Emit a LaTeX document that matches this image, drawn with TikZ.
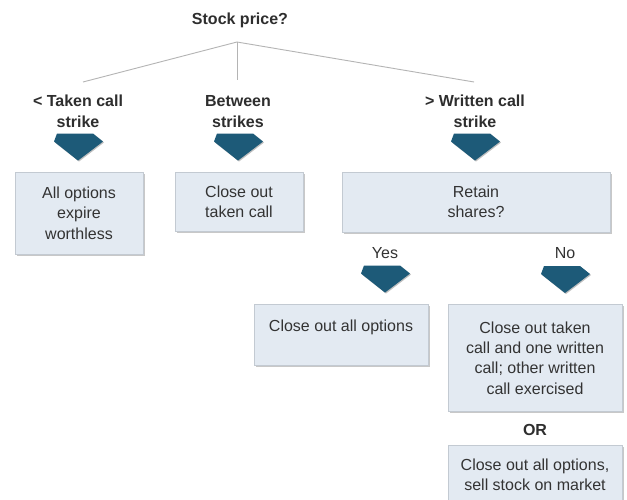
\documentclass[tikz,border=0pt]{standalone}
\usepackage{fontspec}
\setmainfont{Liberation Sans}
\usetikzlibrary{calc,shadows}
\definecolor{boxfill}{HTML}{E3EAF2}
\definecolor{boxline}{HTML}{C3CAD2}
\definecolor{arrowc}{HTML}{1D5A78}
\definecolor{txtc}{HTML}{333333}
\definecolor{linec}{HTML}{B4B4B4}
\tikzset{
  txt/.style={align=center, text=txtc, inner sep=0pt, font=\fontsize{16}{20.3}\selectfont},
  lbl/.style={txt, font=\fontsize{16}{20.6}\selectfont\bfseries, text=txtc!90!black},
  box/.style={txt, draw=boxline, fill=boxfill, line width=0.9pt,
    drop shadow={shadow xshift=1.6pt, shadow yshift=-1.6pt, opacity=0.3, fill=black!70}},
  tree/.style={draw=linec, line width=0.9pt},
  downarrow/.pic={\fill[arrowc, drop shadow={shadow xshift=1pt, shadow yshift=-1pt, opacity=0.25, fill=black}]
    (-21,-27) -- (15,-27) -- (25,-19) -- (0,0) -- (-24,-19) -- cycle;}
}
\begin{document}
\begin{tikzpicture}[x=1pt,y=-1pt]
\useasboundingbox (0,0) rectangle (627,500);
\fill[white] (0,0) rectangle (627,500);

\node[lbl] (title) at (240,20) {Stock price?};
\coordinate (hub) at (237,42);
\coordinate (e1) at (83,82);
\coordinate (e2) at (237,80);
\coordinate (e3) at (474,82);
\draw[tree] (hub) -- (e1);
\draw[tree] (hub) -- (e2);
\draw[tree] (hub) -- (e3);

\node[lbl] (l1) at (78,111.5) {< Taken call\\strike};
\node[lbl] (l2) at (238,111.5) {Between\\strikes};
\node[lbl] (l3) at (475,111.5) {> Written call\\strike};

\node[box, minimum width=128, minimum height=82] (b1) at (79,213) {All options\\expire\\worthless};
\node[box, minimum width=128, minimum height=59] (b2) at (239,201.5) {Close out\\taken call};
\node[box, minimum width=268, minimum height=60] (b3) at (476,202) {Retain\\shares?};

\pic at ($(l1 |- b1.north)+(0,-11)$) {downarrow};
\pic at ($(l2 |- b2.north)+(0,-11)$) {downarrow};
\pic at ($(l3 |- b3.north)+(0,-11)$) {downarrow};

\node[txt] (yes) at (385,253) {Yes};
\node[txt] (no) at (565,253) {No};

\node[box, minimum width=174, minimum height=61] (b4) at (341,334.5) {};
\node[txt] (t4) at (341,327) {Close out all options};
\node[box, minimum width=174, minimum height=107] (b5) at (535,358) {Close out taken\\call and one written\\call; other written\\call exercised};

\pic at ($(yes |- b4.north)+(0,-11)$) {downarrow};
\pic at ($(no |- b5.north)+(0,-11)$) {downarrow};

\node[lbl] (or) at (535,430) {OR};
\node[box, minimum width=174, minimum height=60] (b6) at (535,475) {Close out all options,\\sell stock on market};
\end{tikzpicture}
\end{document}
